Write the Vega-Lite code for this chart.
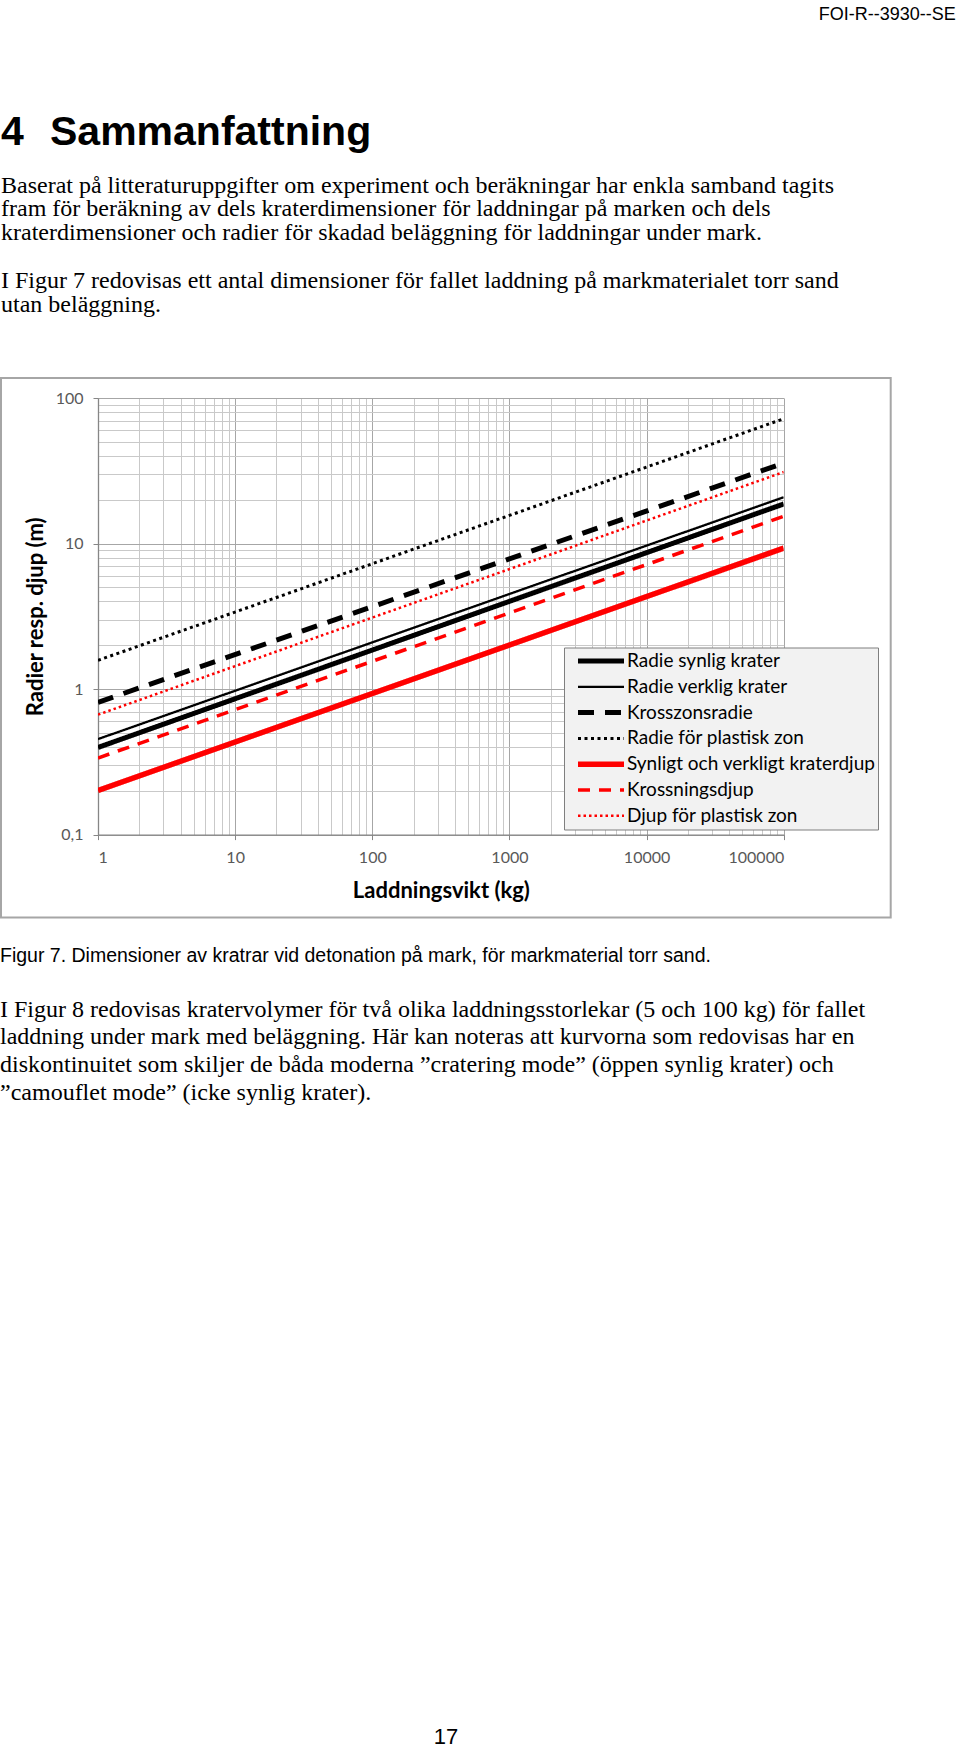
{
  "$schema": "https://vega.github.io/schema/vega-lite/v6.json",
  "background": "white",
  "padding": {"top": 5, "left": 0, "right": 0, "bottom": 0},
  "spacing": 27,
  "config": {"view": {"stroke": null}, "font": "Lato"},
  "title": {
    "text": "FOI-R--3930--SE",
    "anchor": "end",
    "frame": "bounds",
    "font": "Liberation Sans",
    "fontSize": 18,
    "fontWeight": "normal",
    "color": "#000000",
    "dx": 64,
    "offset": 88
  },
  "datasets": {
    "curves": [
      {"serie": "Radie synlig krater", "kg": 1, "varde": 0.397},
      {"serie": "Radie synlig krater", "kg": 100000, "varde": 18.7},
      {"serie": "Radie verklig krater", "kg": 1, "varde": 0.453},
      {"serie": "Radie verklig krater", "kg": 100000, "varde": 20.8},
      {"serie": "Krosszonsradie", "kg": 1, "varde": 0.81},
      {"serie": "Krosszonsradie", "kg": 100000, "varde": 35.7},
      {"serie": "Radie för plastisk zon", "kg": 1, "varde": 1.575},
      {"serie": "Radie för plastisk zon", "kg": 100000, "varde": 72},
      {"serie": "Synligt och verkligt kraterdjup", "kg": 1, "varde": 0.201},
      {"serie": "Synligt och verkligt kraterdjup", "kg": 100000, "varde": 9.3},
      {"serie": "Krossningsdjup", "kg": 1, "varde": 0.336},
      {"serie": "Krossningsdjup", "kg": 100000, "varde": 15.4},
      {"serie": "Djup för plastisk zon", "kg": 1, "varde": 0.667},
      {"serie": "Djup för plastisk zon", "kg": 100000, "varde": 31}
    ]
  },
  "vconcat": [
    {
      "width": 685.7,
      "height": 436.6,
      "title": {
        "text": "4\u00a0\u00a0\u200aSammanfattning",
        "subtitle": [
          "Baserat på litteraturuppgifter om experiment och beräkningar har enkla samband tagits",
          "fram för beräkning av dels kraterdimensioner för laddningar på marken och dels",
          "kraterdimensioner och radier för skadad beläggning för laddningar under mark.",
          "\u2800",
          "I Figur 7 redovisas ett antal dimensioner för fallet laddning på markmaterialet torr sand",
          "utan beläggning."
        ],
        "anchor": "start",
        "frame": "group",
        "dx": -97,
        "font": "Liberation Sans",
        "fontSize": 41,
        "fontWeight": "bold",
        "color": "#000000",
        "subtitleFont": "Liberation Serif",
        "subtitleFontSize": 24,
        "subtitleColor": "#000000",
        "subtitleLineHeight": 23.9,
        "subtitlePadding": 20,
        "offset": 59
      },
      "layer": [
        {
          "data": {"values": [{"ram": "diagram"}]},
          "mark": {"type": "rect", "fill": "transparent", "stroke": "#a6a6a6", "strokeWidth": 2, "xOffset": -97, "x2Offset": 107, "yOffset": -20, "y2Offset": 83},
          "encoding": {"x": {"value": 0}, "x2": {"value": "width"}, "y": {"value": 0}, "y2": {"value": "height"}}
        },
        {
          "data": {"name": "curves"},
          "mark": {"type": "line", "clip": true},
          "encoding": {
            "x": {
              "field": "kg", "type": "quantitative",
              "scale": {"type": "log", "domain": [1, 100000], "nice": false},
              "axis": {
                "values": [1,2,3,4,5,6,7,8,9,10,20,30,40,50,60,70,80,90,100,200,300,400,500,600,700,800,900,1000,2000,3000,4000,5000,6000,7000,8000,9000,10000,20000,30000,40000,50000,60000,70000,80000,90000,100000],
                "labelExpr": "(datum.value == 1 || datum.value == 10 || datum.value == 100 || datum.value == 1000 || datum.value == 10000 || datum.value == 100000) ? format(datum.value, 'd') : ''",
                "labelOverlap": false,
                "labelFont": "Lato", "labelFontSize": 16, "labelColor": "#595959", "labelPadding": 10,
                "tickSize": 5,
                "tickColor": {"condition": {"test": "datum.value == 1 || datum.value == 10 || datum.value == 100 || datum.value == 1000 || datum.value == 10000 || datum.value == 100000", "value": "#868686"}, "value": "transparent"},
                "gridColor": {"condition": {"test": "datum.value == 1 || datum.value == 10 || datum.value == 100 || datum.value == 1000 || datum.value == 10000 || datum.value == 100000", "value": "#a6a6a6"}, "value": "#c9c9c9"},
                "domainColor": "#868686", "domainWidth": 1.3,
                "title": "Laddningsvikt (kg)", "titleFont": "Lato", "titleFontSize": 22, "titleFontWeight": "bold", "titleColor": "#000000", "titlePadding": 15
              }
            },
            "y": {
              "field": "varde", "type": "quantitative",
              "scale": {"type": "log", "domain": [0.1, 100], "nice": false},
              "axis": {
                "values": [0.1,0.2,0.3,0.4,0.5,0.6,0.7,0.8,0.9,1,2,3,4,5,6,7,8,9,10,20,30,40,50,60,70,80,90,100],
                "labelExpr": "datum.value == 0.1 ? '0,1' : (datum.value == 1 ? '1' : (datum.value == 10 ? '10' : (datum.value == 100 ? '100' : '')))",
                "labelOverlap": false,
                "labelFont": "Lato", "labelFontSize": 16, "labelColor": "#595959", "labelPadding": 10,
                "tickSize": 5,
                "tickColor": {"condition": {"test": "datum.value == 0.1 || datum.value == 1 || datum.value == 10 || datum.value == 100", "value": "#868686"}, "value": "transparent"},
                "gridColor": {"condition": {"test": "datum.value == 0.1 || datum.value == 1 || datum.value == 10 || datum.value == 100", "value": "#a6a6a6"}, "value": "#c9c9c9"},
                "domainColor": "#868686", "domainWidth": 1.3,
                "title": "Radier resp. djup (m)", "titleFont": "Lato", "titleFontSize": 22, "titleFontWeight": "bold", "titleColor": "#000000", "titlePadding": 8
              }
            },
            "color": {
              "field": "serie", "type": "nominal",
              "scale": {
                "domain": ["Radie synlig krater", "Radie verklig krater", "Krosszonsradie", "Radie för plastisk zon", "Synligt och verkligt kraterdjup", "Krossningsdjup", "Djup för plastisk zon"],
                "range": ["#000000", "#000000", "#000000", "#000000", "#ff0000", "#ff0000", "#ff0000"]
              },
              "legend": {"title": null, "orient": "none", "legendX": 466, "legendY": 249.5, "symbolType": "stroke", "symbolSize": 2116, "symbolOffset": 9, "labelFont": "Lato", "labelFontSize": 19, "labelColor": "#000000", "labelLimit": 400, "labelOffset": 0, "fillColor": "#f2f2f2", "strokeColor": "#7f7f7f", "padding": 2, "clipHeight": 23, "rowPadding": 2.8}
            },
            "strokeDash": {
              "field": "serie", "type": "nominal",
              "scale": {
                "domain": ["Radie synlig krater", "Radie verklig krater", "Krosszonsradie", "Radie för plastisk zon", "Synligt och verkligt kraterdjup", "Krossningsdjup", "Djup för plastisk zon"],
                "range": [[1, 0], [1, 0], [16, 11], [3, 3.5], [1, 0], [12, 9], [2.5, 3]]
              },
              "legend": {"title": null, "orient": "none", "legendX": 466, "legendY": 249.5, "symbolType": "stroke", "symbolSize": 2116, "symbolOffset": 9, "labelFont": "Lato", "labelFontSize": 19, "labelColor": "#000000", "labelLimit": 400, "labelOffset": 0, "fillColor": "#f2f2f2", "strokeColor": "#7f7f7f", "padding": 2, "clipHeight": 23, "rowPadding": 2.8}
            },
            "strokeWidth": {
              "field": "serie", "type": "nominal",
              "scale": {
                "type": "ordinal",
                "domain": ["Radie synlig krater", "Radie verklig krater", "Krosszonsradie", "Radie för plastisk zon", "Synligt och verkligt kraterdjup", "Krossningsdjup", "Djup för plastisk zon"],
                "range": [5, 2.3, 5, 3, 5.5, 3.5, 2.5]
              },
              "legend": {"title": null, "orient": "none", "legendX": 466, "legendY": 249.5, "symbolType": "stroke", "symbolSize": 2116, "symbolOffset": 9, "labelFont": "Lato", "labelFontSize": 19, "labelColor": "#000000", "labelLimit": 400, "labelOffset": 0, "fillColor": "#f2f2f2", "strokeColor": "#7f7f7f", "padding": 2, "clipHeight": 23, "rowPadding": 2.8}
            }
          }
        }
      ]
    },
    {
      "width": 696,
      "height": 620.5,
      "title": {
        "text": "Figur 7. Dimensioner av kratrar vid detonation på mark, för markmaterial torr sand.",
        "subtitle": [
          "I Figur 8 redovisas kratervolymer för två olika laddningsstorlekar (5 och 100 kg) för fallet",
          "laddning under mark med beläggning. Här kan noteras att kurvorna som redovisas har en",
          "diskontinuitet som skiljer de båda moderna ”cratering mode” (öppen synlig krater) och",
          "”camouflet mode” (icke synlig krater)."
        ],
        "anchor": "start",
        "frame": "group",
        "dx": -98,
        "font": "Liberation Sans",
        "fontSize": 19.5,
        "fontWeight": "normal",
        "color": "#000000",
        "subtitleFont": "Liberation Serif",
        "subtitleFontSize": 24,
        "subtitleColor": "#000000",
        "subtitleLineHeight": 27.8,
        "subtitlePadding": 30.7,
        "offset": 10
      },
      "data": {"values": [{"sida": "17"}]},
      "mark": {"type": "text", "font": "Liberation Sans", "fontSize": 22, "color": "#000000", "baseline": "middle"},
      "encoding": {"text": {"field": "sida"}, "y": {"value": "height"}}
    }
  ]
}
